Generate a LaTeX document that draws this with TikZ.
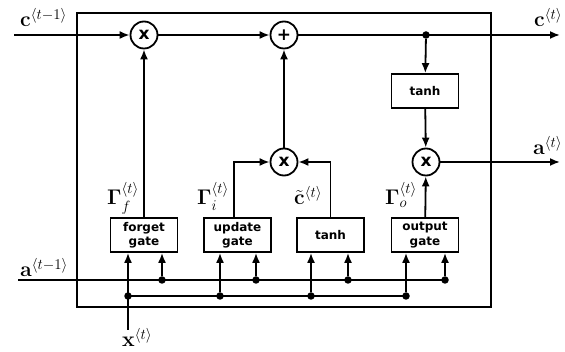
\RequirePackage{fix-cm}
\documentclass[tikz,border=0pt]{standalone}
\usepackage[no-math]{fontspec}
\usepackage{amsmath,bm,graphicx}
\newfontfamily\boxfont{DejaVu Sans}[BoldFont={DejaVu Sans Bold}]
\usetikzlibrary{arrows.meta,calc}
\newcommand{\biglbl}[1]{\scalebox{1.18}{$#1$}}
\tikzset{
  wire/.style={line width=1.8pt},
  arr/.style={wire,-{Latex[length=10pt,width=8pt]}},
  op/.style={circle,draw,line width=1.8pt,minimum size=27pt,inner sep=0pt,font=\boxfont\bfseries\fontsize{17}{17}\selectfont},
  gatebox/.style={draw,line width=1.8pt,minimum width=67pt,minimum height=34pt,inner sep=0pt,align=center,font=\boxfont\bfseries\fontsize{12}{14.5}\selectfont},
  lbl/.style={inner sep=0pt,anchor=base west,font=\fontsize{18}{20}\selectfont},
  dot/.style={circle,fill,minimum size=7.5pt,inner sep=0pt}
}
\begin{document}
\begin{tikzpicture}[x=1pt,y=-1pt]
\useasboundingbox (0,0) rectangle (565,352);
% outer cell box
\draw[wire] (77,13) rectangle (491,307);
% operator nodes
\node[op] (mf) at (144,35) {x};
\node[op] (ma) at (284,35) {+};
\node[op] (mu) at (284,162) {x};
\node[op] (mo) at (426,162) {x};
\node[gatebox] (th) at (425,91) {tanh};
\node[gatebox] (fg) at (144,235) {forget\\gate};
\node[gatebox] (ug) at (237.5,235) {update\\gate};
\node[gatebox] (tg) at (330.5,235) {tanh};
\node[gatebox] (og) at (425,235) {output\\gate};
% free ends
\coordinate (cin) at (14,35);
\coordinate (cout) at (560,35);
\coordinate (aout) at (560,162);
\coordinate (ain) at (18,280);
\coordinate (aend) at (445,280);
\coordinate (xin) at (128,330);
\coordinate (xj) at (128,296);
\coordinate (xend) at (406,296);
\node[dot] (j) at (426,35) {};
% top path
\draw[arr] (cin) -- (mf);
\draw[arr] (mf) -- (ma);
\draw[arr] (ma) -- (cout);
\draw[arr] (j) -- (th);
\draw[arr] (th) -- (mo);
\draw[arr] (mo) -- (aout);
\draw[arr] (mu) -- (ma);
\draw[arr] (fg) -- (mf);
\draw[arr] ([xshift=-3.5pt]ug.north) |- (mu);
\draw[arr] (tg.north) |- (mu);
\draw[arr] (og) -- (mo);
% bottom inputs
\draw[wire] (ain) -- (aend);
\draw[wire] (xj) -- (xend);
\draw[arr] (xin) -- (xj) -- (xj |- fg.south);
\foreach \n/\g/\xa in {a1/fg/162, a2/ug/256, a3/tg/348, a4/og/445}{
  \node[dot] (\n) at (\xa,280) {};
  \draw[arr] (\n) -- (\n |- \g.south);
}
\node[dot] (x1) at (128,296) {};
\node[dot] (x2) at (220,296) {};
\node[dot] (x3) at (311,296) {};
\node[dot] (x4) at (406,296) {};
\draw[arr] (x2) -- (x2 |- ug.south);
\draw[arr] (x3) -- (x3 |- tg.south);
\draw[arr] (x4) -- (x4 |- og.south);
% labels
\node[lbl] (lcin) at (20,27) {\biglbl{\mathbf{c}^{\langle t-1\rangle}}};
\node[lbl] (lcout) at (534,27) {\biglbl{\mathbf{c}^{\langle t\rangle}}};
\node[lbl] (laout) at (533,155) {\biglbl{\mathbf{a}^{\langle t\rangle}}};
\node[lbl] (lain) at (20,277) {\biglbl{\mathbf{a}^{\langle t-1\rangle}}};
\node[lbl] (lxin) at (122,347) {\biglbl{\mathbf{x}^{\langle t\rangle}}};
\node[lbl] (lgf) at (107,205) {\biglbl{\bm{\Gamma}_f^{\langle t\rangle}}};
\node[lbl] (lgi) at (197,205) {\biglbl{\bm{\Gamma}_i^{\langle t\rangle}}};
\node[lbl] (lct) at (294,205) {\biglbl{\tilde{\mathbf{c}}^{\langle t\rangle}}};
\node[lbl] (lgo) at (385,205) {\biglbl{\bm{\Gamma}_o^{\langle t\rangle}}};
\end{tikzpicture}
\end{document}
